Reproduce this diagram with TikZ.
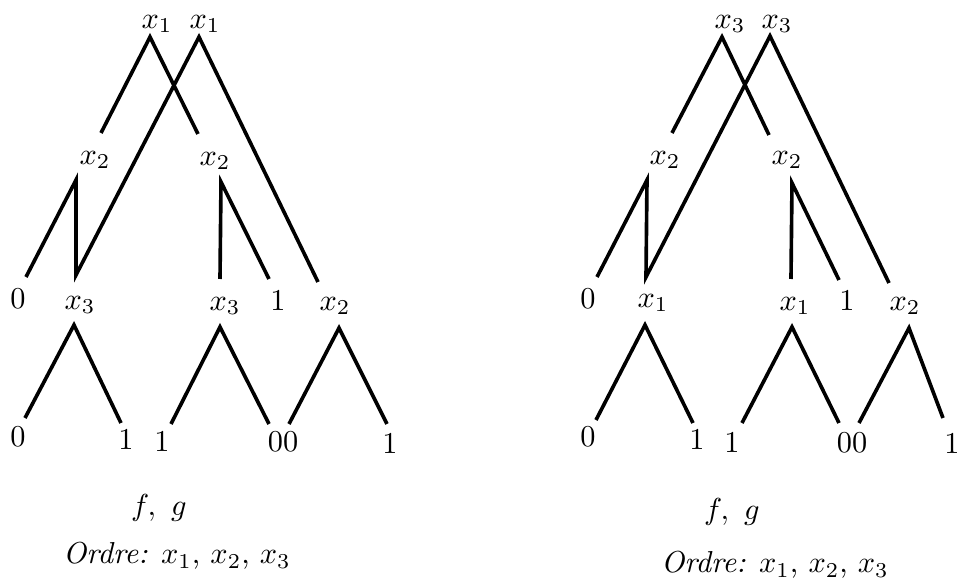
\documentclass[tikz,border=0pt]{standalone}
\begin{document}
\begin{tikzpicture}[x=0.33pt, y=-0.33pt, every node/.style={inner sep=0pt}, branch/.style={draw, line width=1.2pt, line join=miter}]

    \useasboundingbox (0,0) rectangle (960,583);

    \node at (157, 24) (Lx1a) {$x_1$};
    \node at (205, 24) (Lx1b) {$x_1$};
    \node at (95, 160) (Lx2a) {$x_2$};
    \node at (215, 161) (Lx2b) {$x_2$};
    \node at (18, 299) (L0a) {0};
    \node at (80, 305) (Lx3a) {$x_3$};
    \node at (225, 306) (Lx3b) {$x_3$};
    \node at (278, 300) (L1a) {1};
    \node at (335, 306) (Lx2c) {$x_2$};
    \node at (18, 437) (L0b) {0};
    \node at (126, 439) (L1b) {1};
    \node at (162, 441) (L1c) {1};
    \node at (283, 442) (L00) {00};
    \node at (390, 443) (L1d) {1};
    \node at (159, 508) (Lfg) {$f,\ g$};
    \node at (177, 556) (Lord) {\textit{Ordre:} $x_1$, $x_2$, $x_3$};

    \coordinate (La) at (150, 37);
    \coordinate (La1) at (101, 133);
    \coordinate (La2) at (198, 134);
    \coordinate (Lb) at (199, 37);
    \coordinate (Lb1) at (76, 275);
    \coordinate (Lb2) at (318, 282);
    \coordinate (Lc) at (76, 180);
    \coordinate (Lc1) at (26, 277);
    \coordinate (Ld) at (221, 182);
    \coordinate (Ld1) at (220, 279);
    \coordinate (Ld2) at (269, 279);
    \coordinate (Le) at (74, 325);
    \coordinate (Le1) at (25, 418);
    \coordinate (Le2) at (121, 423);
    \coordinate (Lf) at (220, 327);
    \coordinate (Lf1) at (171, 424);
    \coordinate (Lf2) at (269, 424);
    \coordinate (Lg) at (339, 328);
    \coordinate (Lg1) at (289, 424);
    \coordinate (Lg2) at (387, 424);

    \path[branch] (La1) -- (La) -- (La2);
    \path[branch] (Lc1) -- (Lc) -- (Lb1) -- (Lb) -- (Lb2);
    \path[branch] (Ld1) -- (Ld) -- (Ld2);
    \path[branch] (Le1) -- (Le) -- (Le2);
    \path[branch] (Lf1) -- (Lf) -- (Lf2);
    \path[branch] (Lg1) -- (Lg) -- (Lg2);

    \node at (730, 24) (Rx3a) {$x_3$};
    \node at (777, 24) (Rx3b) {$x_3$};
    \node at (665, 160) (Rx2a) {$x_2$};
    \node at (787, 160) (Rx2b) {$x_2$};
    \node at (588, 299) (R0a) {0};
    \node at (653, 303) (Rx1a) {$x_1$};
    \node at (795, 306) (Rx1b) {$x_1$};
    \node at (847, 300) (R1a) {1};
    \node at (905, 306) (Rx2c) {$x_2$};
    \node at (588, 437) (R0b) {0};
    \node at (697, 439) (R1b) {1};
    \node at (732, 442) (R1c) {1};
    \node at (852, 443) (R00) {00};
    \node at (952, 443) (R1d) {1};
    \node at (732, 512) (Rfg) {$f,\ g$};
    \node at (775, 565) (Rord) {\textit{Ordre:} $x_1$, $x_2$, $x_3$};

    \coordinate (Ra) at (722, 37);
    \coordinate (Ra1) at (672, 133);
    \coordinate (Ra2) at (769, 135);
    \coordinate (Rb) at (770, 36);
    \coordinate (Rb1) at (646, 277);
    \coordinate (Rb2) at (889, 283);
    \coordinate (Rc) at (647, 180);
    \coordinate (Rc1) at (597, 277);
    \coordinate (Rd) at (792, 183);
    \coordinate (Rd1) at (791, 279);
    \coordinate (Rd2) at (839, 280);
    \coordinate (Re) at (645, 325);
    \coordinate (Re1) at (596, 420);
    \coordinate (Re2) at (693, 423);
    \coordinate (Rf) at (792, 327);
    \coordinate (Rf1) at (742, 423);
    \coordinate (Rf2) at (839, 423);
    \coordinate (Rg) at (909, 328);
    \coordinate (Rg1) at (859, 423);
    \coordinate (Rg2) at (943, 418);

    \path[branch] (Ra1) -- (Ra) -- (Ra2);
    \path[branch] (Rc1) -- (Rc) -- (Rb1) -- (Rb) -- (Rb2);
    \path[branch] (Rd1) -- (Rd) -- (Rd2);
    \path[branch] (Re1) -- (Re) -- (Re2);
    \path[branch] (Rf1) -- (Rf) -- (Rf2);
    \path[branch] (Rg1) -- (Rg) -- (Rg2);

\end{tikzpicture}
\end{document}
